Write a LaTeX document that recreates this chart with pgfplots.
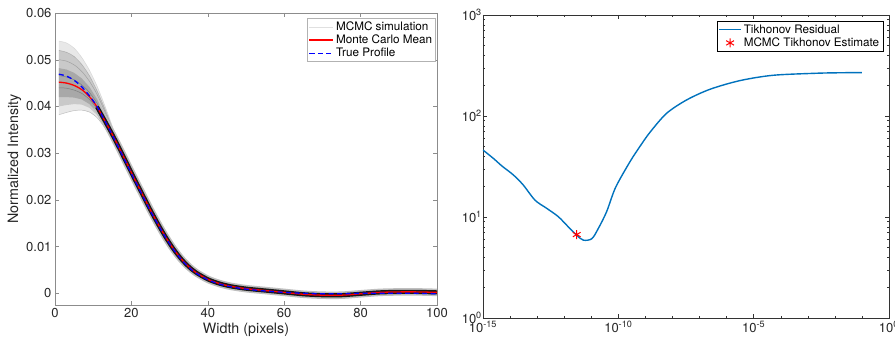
\documentclass[border=0pt]{standalone}
\usepackage{pgfplots}
\pgfplotsset{compat=1.18}
\usepackage{pgfplotstable}
\usepackage{fontspec}
\setmainfont{TeX Gyre Heros}
\definecolor{mblue}{rgb}{0,0.447,0.741}

\pgfplotstableread{
x mean true
1 0.0452 0.0469
3 0.0450 0.0465
5 0.0445 0.0456
7 0.0436 0.0442
9 0.0421 0.0423
11 0.0399 0.0400
13 0.0370 0.0370
15 0.0340 0.0339
17 0.0308 0.0306
19 0.0275 0.0273
21 0.0242 0.0240
23 0.0210 0.0208
25 0.0178 0.0176
27 0.0148 0.0147
29 0.0120 0.0119
31 0.0095 0.0094
33 0.0074 0.0073
35 0.0057 0.0056
37 0.0044 0.0043
40 0.0030 0.0029
43 0.0021 0.0020
46 0.0015 0.0014
50 0.0010 0.0009
55 0.0006 0.0005
60 0.0002 0.0002
65 -0.0002 0.0000
70 -0.0004 -0.0001
75 -0.0004 -0.0001
80 -0.0001 0.0000
85 0.0002 0.0000
90 0.0003 0.0000
95 0.0003 0.0000
100 0.0002 -0.0001
}\profile

\pgfplotstableread{
x c1 c2 c3 c4 c5 c6 c7 c8 c9
1 0.0540 0.0520 0.0500 0.0482 0.0466 0.0440 0.0420 0.0400 0.0382
3 0.0536 0.0516 0.0497 0.0479 0.0463 0.0439 0.0420 0.0403 0.0387
5 0.0525 0.0507 0.0489 0.0472 0.0457 0.0435 0.0419 0.0405 0.0391
7 0.0505 0.0490 0.0475 0.0460 0.0446 0.0428 0.0415 0.0404 0.0392
9 0.0478 0.0466 0.0454 0.0442 0.0430 0.0415 0.0405 0.0397 0.0388
11 0.0444 0.0434 0.0426 0.0416 0.0407 0.0395 0.0388 0.0382 0.0376
13 0.0403 0.0396 0.0390 0.0383 0.0376 0.0368 0.0363 0.0359 0.0355
15 0.0358 0.0354 0.0350 0.0346 0.0343 0.0338 0.0335 0.0332 0.0330
17 0.0316 0.0314 0.0312 0.0310 0.0309 0.0307 0.0305 0.0303 0.0302
19 0.0278 0.0277 0.0276 0.0276 0.0275 0.0275 0.0274 0.0273 0.0273
21 0.0243 0.0242 0.0242 0.0242 0.0242 0.0242 0.0242 0.0241 0.0241
}\spread

\pgfplotstableread{
x y
1 0.0540
3 0.0536
5 0.0525
7 0.0505
9 0.0478
11 0.0444
13 0.0403
15 0.0358
17 0.0316
19 0.0278
21 0.0243
21 0.0241
19 0.0273
17 0.0302
15 0.0330
13 0.0355
11 0.0376
9 0.0388
7 0.0392
5 0.0391
3 0.0387
1 0.0382
}\outerband

\pgfplotstableread{
x y
1 0.0520
3 0.0516
5 0.0507
7 0.0490
9 0.0466
11 0.0434
13 0.0396
15 0.0354
17 0.0314
19 0.0277
21 0.0242
21 0.0241
19 0.0273
17 0.0303
15 0.0332
13 0.0359
11 0.0382
9 0.0397
7 0.0404
5 0.0405
3 0.0403
1 0.0400
}\midband

\pgfplotstableread{
x y
1 0.0482
3 0.0479
5 0.0472
7 0.0460
9 0.0442
11 0.0416
13 0.0383
15 0.0346
17 0.0310
19 0.0276
21 0.0242
21 0.0242
19 0.0274
17 0.0305
15 0.0335
13 0.0363
11 0.0388
9 0.0405
7 0.0415
5 0.0419
3 0.0420
1 0.0420
}\coreband

\pgfplotstableread{
x y
1e-15 46
2.4e-15 38.1
5.0e-15 32
1.32e-14 26.1
3.09e-14 20.7
8.3e-14 14.7
2.24e-13 12.2
6.0e-13 10.1
1.41e-12 8.0
2.88e-12 6.6
5.1e-12 5.9
1.05e-11 6.1
1.82e-11 7.7
3.7e-11 11.3
7.9e-11 19.6
2.7e-10 35.3
6.3e-10 50
1.48e-9 69
6.0e-9 106
3.3e-8 144
2.45e-7 184
3.1e-6 224
5.2e-5 253
2.1e-3 265
1.6e-2 268
1e-1 269
}\tikh

\begin{document}
\begin{tikzpicture}
\path[use as bounding box] (0pt,0pt) rectangle (895pt,343pt);
\begin{axis}[
  at={(55pt,38pt)}, anchor=south west, scale only axis,
  width=382pt, height=292pt,
  xmin=0, xmax=100, ymin=-0.0025, ymax=0.06,
  xtick={0,20,...,100}, ytick={0,0.01,...,0.06},
  scaled y ticks=false,
  yticklabel style={/pgf/number format/fixed,/pgf/number format/precision=2},
  xticklabel style={inner xsep=0pt},
  /pgf/number format/assume math mode=true,
  tick align=inside, major tick length=4pt,
  axis line style={black!45}, every tick/.style={black!45},
  tick label style={font=\fontsize{13}{15}\selectfont, black!85},
  label style={font=\fontsize{14.3}{16}\selectfont, black!85},
  xlabel={Width (pixels)}, ylabel={Normalized Intensity},
  xlabel style={yshift=2pt}, ylabel style={yshift=-2pt},
  legend style={at={(rel axis cs:0.997,0.983)}, anchor=north east,
    draw=black!30, fill=white, font=\fontsize{11.7}{13.5}\selectfont,
    inner sep=1.5pt, row sep=-1pt, cells={anchor=west}},
  legend image code/.code={\draw[mark repeat=2,mark phase=2,#1] plot coordinates {(0pt,0pt) (12pt,0pt) (24pt,0pt)};},
]
\addplot[fill=gray!18, draw=none, forget plot] table[x=x,y=y]{\outerband} -- cycle;
\addplot[fill=gray!42, draw=none, forget plot] table[x=x,y=y]{\midband} -- cycle;
\addplot[fill=gray!68, draw=none, forget plot] table[x=x,y=y]{\coreband} -- cycle;
\addplot[black, opacity=0.12, line width=0.5pt, smooth] table[x=x,y=c1]{\spread};
\addlegendentry{MCMC simulation}
\addplot[black, opacity=0.2, line width=0.5pt, smooth, forget plot] table[x=x,y=c2]{\spread};
\addplot[black, opacity=0.2, line width=0.5pt, smooth, forget plot] table[x=x,y=c3]{\spread};
\addplot[black, opacity=0.25, line width=0.5pt, smooth, forget plot] table[x=x,y=c5]{\spread};
\addplot[black, opacity=0.25, line width=0.5pt, smooth, forget plot] table[x=x,y=c6]{\spread};
\addplot[black, opacity=0.2, line width=0.5pt, smooth, forget plot] table[x=x,y=c9]{\spread};
\addplot[gray!50, line width=7.5pt, line cap=butt, smooth, forget plot, restrict x to domain=11:100] table[x=x,y=mean]{\profile};
\addplot[black!90, line width=4.2pt, line cap=butt, smooth, forget plot, restrict x to domain=11:100] table[x=x,y=mean]{\profile};
\addplot[red, line width=1.3pt, smooth] table[x=x,y=mean]{\profile};
\addlegendentry{Monte Carlo Mean}
\addplot[blue, line width=1.3pt, dash pattern=on 5pt off 3.5pt, smooth] table[x=x,y=true]{\profile};
\addlegendentry{True Profile}
\end{axis}

\begin{axis}[
  at={(483pt,25pt)}, anchor=south west, scale only axis,
  width=406pt, height=303pt,
  xmode=log, ymode=log,
  xmin=1e-15, xmax=1, ymin=1, ymax=1000,
  xtick={1e-15,1e-10,1e-5,1},
  xticklabels={10\textsuperscript{-15},10\textsuperscript{-10},10\textsuperscript{-5},10\textsuperscript{0}},
  minor xtick={1e-14,1e-13,1e-12,1e-11,1e-9,1e-8,1e-7,1e-6,1e-4,1e-3,1e-2,1e-1},
  ytick={1,10,100,1000},
  yticklabels={10\textsuperscript{0},10\textsuperscript{1},10\textsuperscript{2},10\textsuperscript{3}},
  yticklabel style={inner xsep=1pt},
  minor ytick={2,3,4,5,6,7,8,9,20,30,40,50,60,70,80,90,200,300,400,500,600,700,800,900},
  tick align=inside, major tick length=4.5pt, minor tick length=2.5pt,
  axis line style={black!80}, every tick/.style={black!80},
  tick label style={font=\fontsize{13}{15}\selectfont, black!85},
  legend style={at={(rel axis cs:0.985,0.98)}, anchor=north east,
    draw=black, fill=white, font=\fontsize{11.7}{13.5}\selectfont,
    inner sep=1.5pt, row sep=-1pt, cells={anchor=west}},
  legend image code/.code={\draw[mark repeat=2,mark phase=2,#1] plot coordinates {(0pt,0pt) (11pt,0pt) (22pt,0pt)};},
]
\addplot[mblue, line width=1.4pt, smooth] table[x=x,y=y]{\tikh};
\addlegendentry{Tikhonov Residual}
\addplot[only marks, red, mark=asterisk, mark size=4.5pt, line width=1pt] coordinates {(2.9e-12,6.7)};
\addlegendentry{MCMC Tikhonov Estimate}
\end{axis}
\end{tikzpicture}
\end{document}
